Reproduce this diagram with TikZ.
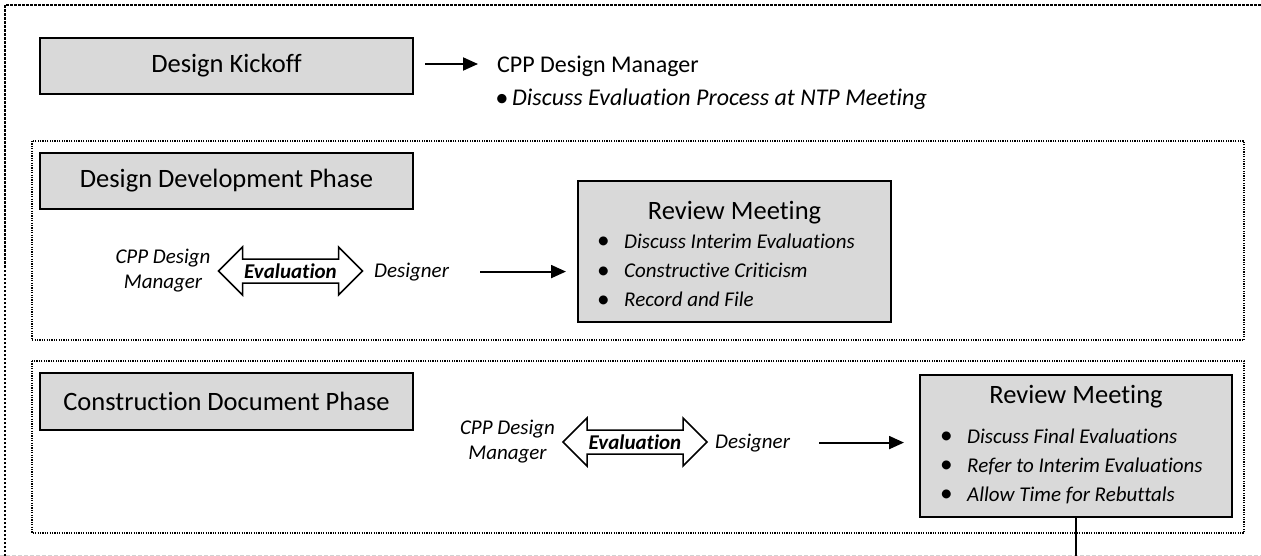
\documentclass[tikz,border=0pt]{standalone}
\usepackage{fontspec}
\setmainfont{Carlito}[Ligatures={NoCommon}]
\usetikzlibrary{arrows.meta}
\definecolor{boxgray}{HTML}{D9D9D9}
\newcommand\fHead{\fontsize{26.5}{32}\selectfont}
\newcommand\fSub{\fontsize{24}{29}\selectfont}
\newcommand\fSubIt{\fontsize{24}{29}\selectfont\itshape}
\newcommand\fIt{\fontsize{21}{25}\selectfont\itshape}
\newcommand\fBoldIt{\fontsize{21}{25}\selectfont\bfseries\itshape}
\newcommand\bigbul[2]{\makebox[#1][c]{\raisebox{-0.3pt}{\scalebox{#2}{\textbullet}}}}
\begin{document}
\begin{tikzpicture}[x=1pt,y=-1pt,
  box/.style={draw=black, line width=2pt, fill=boxgray, inner sep=0pt, font=\fHead},
  txt/.style={inner sep=0pt},
  outerframe/.style={line width=2.5pt, dash pattern=on 2.5pt off 1.5pt},
  thinframe/.style={line width=1.2pt, dash pattern=on 1.2pt off 1.2pt},
  arr/.style={line width=2pt, -{Triangle[length=15pt,width=13pt]}},
  conn/.style={line width=2pt},
  evarrow/.style={draw=black, line width=1.5pt, fill=white, line join=miter}
]
\useasboundingbox (0,0) rectangle (1261,556);
% frames
\draw[outerframe] (5,556) -- (5,5) -- (1261,5);
\draw[gray!35, line width=1pt, dash pattern=on 4pt off 2pt] (0,555) -- (1261,555);
\draw[thinframe] (32,141) rectangle (1244,340);
\draw[thinframe] (32,361) rectangle (1244,533);

% kickoff
\node[box, minimum width=373pt, minimum height=56pt] (kick) at (226.5,66) {Design Kickoff};
\node[txt, anchor=base west, font=\fSub] (kmgr) at (497,72.5) {CPP Design Manager};
\node[txt, anchor=base west, font=\fSubIt] (kbul) at (491,106) {\bigbul{21pt}{1.1}Discuss Evaluation Process at NTP Meeting};
\draw[arr] ([xshift=11pt,yshift=2pt]kick.east) -- ([xshift=-19pt,yshift=2pt]kick.east -| kmgr.west);

% design development phase
\node[box, minimum width=373pt, minimum height=56pt] (ddp) at (226.5,181) {Design Development Phase};
\node[txt, align=center, font=\fIt] (mgr1) at (163,271) {CPP Design\\Manager};
\begin{scope}[shift={(290.5,271)}]
\draw[evarrow] (-72,0) -- (-48,-24) -- (-48,-12) -- (48,-12) -- (48,-24) -- (72,0) -- (48,24) -- (48,12) -- (-48,12) -- (-48,24) -- cycle;
\end{scope}
\node[txt, font=\fBoldIt] (ev1) at (290.5,271) {Evaluation};
\node[txt, anchor=base west, font=\fIt] (des1) at (374,277) {Designer};
\node[box, minimum width=313pt, minimum height=141pt] (rm1) at (734.5,251.5) {};
\node[txt, anchor=base, font=\fHead] (rm1t) at (734.5,220) {Review Meeting};
\node[txt, anchor=base west, font=\fIt] (rm1a) at (582,248.3) {\bigbul{42pt}{1.2}Discuss Interim Evaluations};
\node[txt, anchor=base west, font=\fIt] (rm1b) at (582,277.7) {\bigbul{42pt}{1.2}Constructive Criticism};
\node[txt, anchor=base west, font=\fIt] (rm1c) at (582,306.7) {\bigbul{42pt}{1.2}Record and File};
\draw[arr] ([xshift=31pt]des1.east) -- ([xshift=-11pt]des1.east -| rm1.west);

% construction document phase
\node[box, minimum width=373pt, minimum height=57pt] (cdp) at (226.5,401.5) {Construction Document Phase};
\node[txt, align=center, font=\fIt] (mgr2) at (507.5,442) {CPP Design\\Manager};
\begin{scope}[shift={(635,442)}]
\draw[evarrow] (-72,0) -- (-48,-24) -- (-48,-12) -- (48,-12) -- (48,-24) -- (72,0) -- (48,24) -- (48,12) -- (-48,12) -- (-48,24) -- cycle;
\end{scope}
\node[txt, font=\fBoldIt] (ev2) at (635,442) {Evaluation};
\node[txt, anchor=base west, font=\fIt] (des2) at (715,448) {Designer};
\node[box, minimum width=312pt, minimum height=142pt] (rm2) at (1076,446) {};
\node[txt, anchor=base, font=\fHead] (rm2t) at (1076,403) {Review Meeting};
\node[txt, anchor=base west, font=\fIt] (rm2a) at (925,443) {\bigbul{42pt}{1.2}Discuss Final Evaluations};
\node[txt, anchor=base west, font=\fIt] (rm2b) at (925,472) {\bigbul{42pt}{1.2}Refer to Interim Evaluations};
\node[txt, anchor=base west, font=\fIt] (rm2c) at (925,501) {\bigbul{42pt}{1.2}Allow Time for Rebuttals};
\draw[arr] ([xshift=29pt]des2.east) -- ([xshift=-15pt]des2.east -| rm2.west);
\coordinate (vend) at (1076,556);
\draw[conn] (rm2.south) -- (vend);
\end{tikzpicture}
\end{document}
